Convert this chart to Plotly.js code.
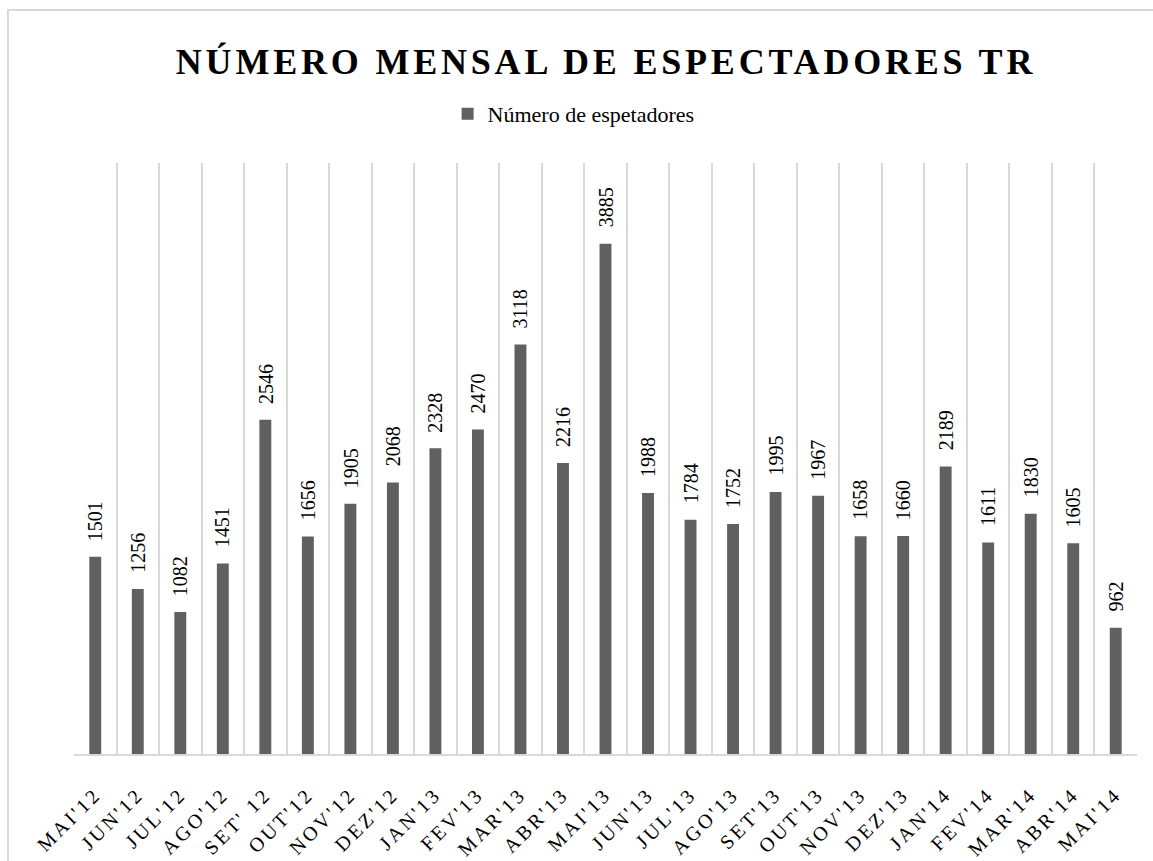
<!DOCTYPE html>
<html>
<head>
<meta charset="utf-8">
<script src="https://cdn.plot.ly/plotly-3.0.1.min.js"></script>
<style>
  html, body { margin: 0; padding: 0; background: #ffffff; }
  #chart { position: absolute; left: 0; top: 0; width: 1153px; height: 861px; }
  #frame { position: absolute; left: 7px; top: 9px; width: 1300px; height: 1000px;
           border: 2px solid #d9d9d9; pointer-events: none; box-sizing: border-box; }
  .gtitle { letter-spacing: 3.8px; }
  .xtick text { letter-spacing: 3px; }
</style>
</head>
<body>
<div id="chart"></div>
<div id="frame"></div>
<script>
const months = ["MAI'12","JUN'12","JUL'12","AGO'12","SET' 12","OUT'12","NOV'12","DEZ'12",
  "JAN'13","FEV'13","MAR'13","ABR'13","MAI'13","JUN'13","JUL'13","AGO'13","SET'13",
  "OUT'13","NOV'13","DEZ'13","JAN'14","FEV'14","MAR'14","ABR'14","MAI'14"];
const spectators = [1501,1256,1082,1451,2546,1656,1905,2068,2328,2470,3118,2216,3885,
  1988,1784,1752,1995,1967,1658,1660,2189,1611,1830,1605,962];
const seriesName = "Número de espetadores";
const chartTitle = "NÚMERO MENSAL DE ESPECTADORES TR";

const serif = "Liberation Serif, DejaVu Serif, serif";
const barColor = "#606060";
const gridColor = "#d9d9d9";

const trace = {
  type: "bar",
  x: months,
  y: spectators,
  name: seriesName,
  width: 0.28,
  marker: { color: barColor },
  hoverinfo: "x+y",
  showlegend: true
};

const labels = months.map((m, i) => ({
  x: m, y: spectators[i], xref: "x", yref: "y",
  text: String(spectators[i]), textangle: -90,
  showarrow: false, yanchor: "bottom", xanchor: "center",
  yshift: 14,
  font: { family: serif, size: 20, color: "#000000" }
}));

const layout = {
  width: 1153, height: 861,
  margin: { l: 74, r: 16, t: 163, b: 107 },
  paper_bgcolor: "#ffffff",
  plot_bgcolor: "#ffffff",
  font: { family: serif },
  title: {
    text: "<b>" + chartTitle + "</b>",
    font: { family: serif, size: 36, color: "#000000" },
    x: 606 / 1153, xref: "container", xanchor: "center",
    y: 1 - 61 / 861, yref: "container", yanchor: "middle"
  },
  showlegend: true,
  legend: {
    orientation: "h",
    x: 0.47, xanchor: "center",
    y: 1.083, yanchor: "middle",
    font: { family: serif, size: 22, color: "#000000" },
    itemwidth: 30,
    bgcolor: "rgba(0,0,0,0)"
  },
  xaxis: {
    type: "category",
    tickson: "boundaries",
    showgrid: true, gridcolor: gridColor, gridwidth: 1.5,
    showline: true, linecolor: gridColor, linewidth: 1.5,
    ticks: "",
    tickangle: -45,
    ticklabelstandoff: 19,
    tickfont: { family: serif, size: 20, color: "#000000" },
    fixedrange: true
  },
  yaxis: {
    range: [0, 4500],
    showgrid: false, zeroline: false, showline: false,
    showticklabels: false, ticks: "",
    fixedrange: true
  },
  bargap: 0.72,
  annotations: labels
};

Plotly.newPlot("chart", [trace], layout, { displayModeBar: false, responsive: false });
</script>
</body>
</html>
